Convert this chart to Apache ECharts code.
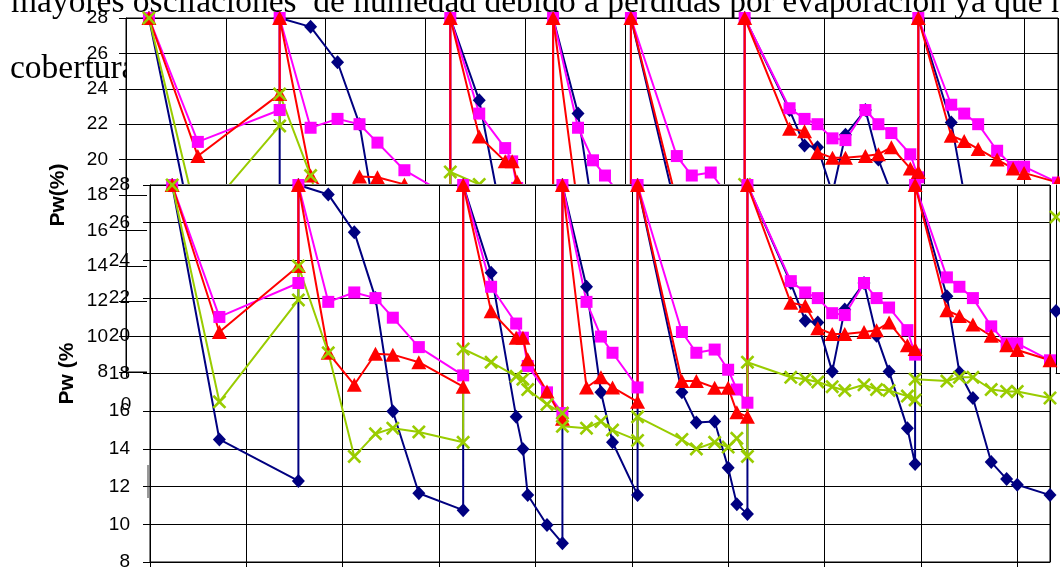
<!DOCTYPE html>
<html>
<head>
<meta charset="utf-8">
<script src="https://cdn.jsdelivr.net/npm/echarts@6/dist/echarts.min.js"></script>
<style>
html,body{margin:0;padding:0;background:#fff;}
#c{width:1060px;height:567px;}
</style>
</head>
<body>
<div id="c"></div>
<script>
// ---- data (days since start, moisture Pw %) ----
const days = [2.3, 7.2, 15.4, 15.4, 18.5, 21.2, 23.4, 25.2, 27.9, 32.5, 32.5, 35.4, 38.0, 38.7, 39.2, 41.2, 42.8, 42.8,
  45.3, 46.8, 48.0, 50.6, 50.6, 55.2, 56.7, 58.6, 60.0, 60.9, 62.0, 62.0, 66.5, 68.0, 69.3, 70.8, 72.1, 74.1, 75.4,
  76.7, 78.6, 79.4, 79.4, 82.7, 84.0, 85.4, 87.3, 88.9, 90.0, 93.4];
const blueY = [28, 14.5, 12.3, 28, 27.5, 25.5, 22.0, 16.0, 11.65, 10.75, 28, 23.35, 15.7, 14.0, 11.55, 9.96, 9.0, 28,
  22.6, 17.0, 14.35, 11.55, 28, 17.0, 15.4, 15.45, 13.0, 11.07, 10.54, 28, 22.8, 20.8, 20.7, 18.1, 21.4, 22.8, 20.0,
  18.1, 15.1, 13.2, 28, 22.1, 18.05, 16.7, 13.3, 12.4, 12.1, 11.55];
const pinkY = [28, 21.0, 22.8, 28, 21.8, 22.3, 22.0, 20.96, 19.4, 17.9, 28, 22.6, 20.65, 19.9, 18.4, 17.0, 15.9, 28,
  21.8, 19.96, 19.1, 17.26, 28, 20.2, 19.1, 19.27, 18.2, 17.15, 16.45, 28, 22.9, 22.3, 22.0, 21.2, 21.1, 22.8, 22.0,
  21.5, 20.3, 19.0, 28, 23.1, 22.6, 22.0, 20.5, 19.6, 19.6, 18.7];
const redY = [28, 20.2, 23.7, 28, 19.1, 17.4, 19.05, 19.0, 18.6, 17.3, 28, 21.3, 19.9, 19.9, 18.75, 17.05, 15.6, 28,
  17.26, 17.8, 17.26, 16.5, 28, 17.6, 17.6, 17.25, 17.25, 15.95, 15.7, 28, 21.75, 21.6, 20.4, 20.1, 20.1, 20.2, 20.3,
  20.7, 19.5, 19.3, 28, 21.35, 21.05, 20.6, 20.0, 19.5, 19.25, 18.7];
const greenY = [28, 16.5, 21.9, 23.7, 19.1, 13.6, 14.8, 15.1, 14.9, 14.35, 19.3, 18.6, 17.85, 17.7, 17.15, 16.36, 15.9, 15.2,
  15.1, 15.46, 15.0, 14.45, 15.7, 14.5, 14.0, 14.35, 14.1, 14.56, 13.6, 18.6, 17.8, 17.7, 17.55, 17.3, 17.1, 17.4, 17.15,
  17.1, 16.8, 16.6, 17.7, 17.6, 17.8, 17.8, 17.15, 17.05, 17.05, 16.7];
// partially visible third chart at the right edge
const thirdX = [0];
const thirdGreenY = [24.6];
const thirdBlueY = [14.6];
// axes
const yMin = 8, yMax = 28, yStep = 2;
const xMin = 0, xMax = 93.4, xStep = 10;
const yName1 = 'Pw(%)';
const yName2 = 'Pw (%';
const textLine1 = 'mayores oscilaciones  de humedad debido a pérdidas por evaporación ya que no';
const textLine2 = 'cobertura';

// ---- chart ----
const FONT = '"Liberation Sans", Arial, sans-serif';
const XSYM = 'path://M0,1.6L1.6,0L6,4.4L10.4,0L12,1.6L7.6,6L12,10.4L10.4,12L6,7.6L1.6,12L0,10.4L4.4,6Z';
const specs = [
  {ys: blueY, color: '#000080', symbol: 'diamond', size: [13, 14]},
  {ys: pinkY, color: '#FF00FF', symbol: 'rect', size: 12},
  {ys: redY, color: '#FF0000', symbol: 'triangle', size: [15, 14]},
  {ys: greenY, color: '#99CC00', symbol: XSYM, size: 14}
];

function xAx(gi, z, opts) {
  return Object.assign({
    type: 'value', gridIndex: gi, min: xMin, max: xMax, interval: xStep, z: z,
    axisLine: {show: true, onZero: false, lineStyle: {color: '#000', width: 1}},
    axisTick: {show: true, length: 5, lineStyle: {color: '#000'}},
    axisLabel: {show: true, color: '#000', fontSize: 19, fontFamily: FONT, margin: 23, showMaxLabel: false},
    splitLine: {show: true, lineStyle: {color: '#000', width: 1}}
  }, opts || {});
}
function yAx(gi, z, margin, name, gap) {
  return {
    type: 'value', gridIndex: gi, min: yMin, max: yMax, interval: yStep, z: z,
    axisLine: {show: true, onZero: false, lineStyle: {color: '#000', width: 1}},
    axisTick: {show: true, length: 7, lineStyle: {color: '#000'}},
    axisLabel: {color: '#000', fontSize: 19, fontFamily: FONT, margin: margin},
    splitLine: {show: true, lineStyle: {color: '#000', width: 1}},
    name: name, nameLocation: 'middle', nameRotate: 90, nameGap: gap,
    nameTextStyle: {fontFamily: FONT, fontSize: 21, fontWeight: 'bold', color: '#000'}
  };
}

const series = [];
[0, 1].forEach(function (gi) {
  specs.forEach(function (s) {
    series.push({
      type: 'line', xAxisIndex: gi, yAxisIndex: gi,
      data: days.map(function (d, i) { return [d, s.ys[i]]; }),
      symbol: s.symbol, symbolSize: s.size, showAllSymbol: true,
      lineStyle: {color: s.color, width: 2}, itemStyle: {color: s.color, borderColor: s.color, borderWidth: 0},
      z: gi === 0 ? 3 : 13, clip: false, animation: false, silent: true
    });
  });
});
series.push({type: 'line', xAxisIndex: 2, yAxisIndex: 2, data: thirdX.map(function (d, i) { return [d, thirdGreenY[i]]; }),
  symbol: XSYM, symbolSize: 14, itemStyle: {color: '#99CC00'}, lineStyle: {width: 0}, z: 12, clip: false, animation: false});
series.push({type: 'line', xAxisIndex: 2, yAxisIndex: 2, data: thirdX.map(function (d, i) { return [d, thirdBlueY[i]]; }),
  symbol: 'diamond', symbolSize: [13, 14], itemStyle: {color: '#000080'}, lineStyle: {width: 0}, z: 12, clip: false, animation: false});

const chart = echarts.init(document.getElementById('c'), null, {renderer: 'canvas'});
chart.setOption({
  backgroundColor: '#fff',
  animation: false,
  grid: [
    {left: 126, top: 18, width: 932, height: 354, show: true, backgroundColor: '#fff', borderColor: '#000', borderWidth: 1, z: 1, outerBoundsMode: 'none', containLabel: false},
    {left: 150, top: 185, width: 900, height: 377, show: true, backgroundColor: 'transparent', borderColor: '#000', borderWidth: 1, z: 11, outerBoundsMode: 'none', containLabel: false},
    {left: 1056, top: 185, width: 300, height: 188, show: false, z: 10, outerBoundsMode: 'none', containLabel: false}
  ],
  xAxis: [
    xAx(0, 2),
    xAx(1, 12),
    {type: 'value', gridIndex: 2, min: 0, max: 10, z: 10, axisLine: {show: true, onZero: false, lineStyle: {color: '#000'}},
      axisTick: {show: false}, axisLabel: {show: false}, splitLine: {show: false}}
  ],
  yAxis: [
    yAx(0, 2, 18, yName1, 57),
    yAx(1, 12, 20, yName2, 72),
    {type: 'value', gridIndex: 2, min: yMin, max: yMax, z: 10, axisLine: {show: true, onZero: false, lineStyle: {color: '#000'}},
      axisTick: {show: false}, axisLabel: {show: false}, splitLine: {show: false}}
  ],
  graphic: [
    {type: 'text', x: 11, y: 3, z: 0, silent: true, style: {text: textLine1, font: '33.5px "Liberation Serif", "Times New Roman", serif', fill: '#000', verticalAlign: 'middle'}},
    {type: 'text', x: 10, y: 69, z: 0, silent: true, style: {text: textLine2, font: '33.5px "Liberation Serif", "Times New Roman", serif', fill: '#000', verticalAlign: 'middle'}},
    {type: 'rect', z: 10, silent: true, shape: {x: 147, y: 184, width: 905, height: 383}, style: {fill: '#fff'}},
    {type: 'rect', z: 10, silent: true, shape: {x: 1051.5, y: 184, width: 9, height: 190}, style: {fill: '#fff'}},
    {type: 'line', z: 14, silent: true, shape: {x1: 148, y1: 465, x2: 148, y2: 498}, style: {stroke: '#333', lineWidth: 1}}
  ],
  series: series
});
</script>
</body>
</html>
